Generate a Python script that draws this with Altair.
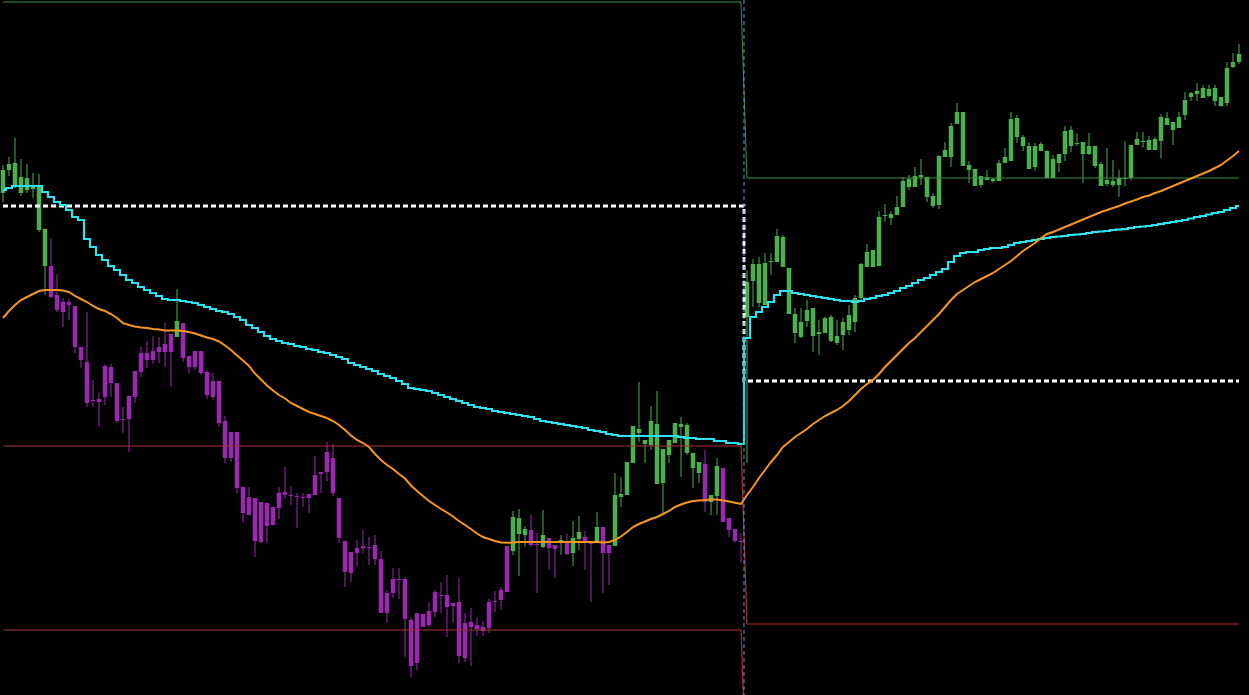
import altair as alt
import pandas as pd

# Candle prices, one entry per bar (two sessions back to back)
high = [
    535, 543, 562, 541, 536, 527, 526, 472, 462, 426,
    402, 401, 394, 353, 388, 320, 308, 336, 336, 317,
    293, 304, 329, 353, 359, 364, 363, 377, 366, 411,
    377, 344, 349, 349, 330, 327, 319, 284, 268, 268,
    213, 213, 202, 198, 197, 193, 213, 233, 214, 207,
    207, 206, 244, 228, 258, 256, 202, 159, 148, 160,
    170, 163, 165, 149, 110, 132, 132, 123, 83, 87,
    86, 98, 110, 118, 125, 97, 122, 87, 92, 82,
    79, 101, 109, 113, 154, 189, 191, 174, 185, 167,
    190, 162, 155, 165, 166, 179, 184, 169, 159, 188,
    173, 155, 227, 223, 238, 274, 318, 260, 294, 309,
    251, 260, 277, 283, 277, 247, 238, 250, 205, 242,
    232, 182, 171, 167,
    430, 441, 443, 447, 447, 471,
    465, 432, 392, 392, 400, 392, 380, 383, 385, 380,
    382, 395, 405, 437, 456, 450, 489, 496, 489, 504,
    523, 525, 533, 541, 523, 507, 545, 558, 577, 597,
    588, 539, 531, 524, 530, 522, 540, 552, 588, 585,
    565, 558, 557, 558, 550, 545, 546, 574, 574, 567,
    558, 567, 554, 538, 552, 540, 530, 559, 555, 568,
    568, 564, 563, 586, 588, 578, 588, 608, 608, 617,
    615, 615, 615, 603, 638, 647, 656,
]
body_hi = [
    530, 536, 537, 523, 522, 514, 513, 471, 434, 405,
    398, 398, 394, 353, 338, 300, 301, 334, 333, 317,
    281, 304, 329, 347, 347, 349, 353, 356, 366, 379,
    377, 344, 349, 349, 328, 319, 319, 279, 268, 268,
    213, 203, 202, 198, 197, 193, 207, 208, 205, 204,
    203, 206, 225, 228, 248, 242, 202, 159, 148, 152,
    154, 153, 155, 141, 107, 121, 121, 121, 80, 87,
    86, 89, 108, 105, 105, 97, 98, 77, 78, 75,
    73, 98, 99, 110, 154, 183, 182, 171, 170, 156,
    165, 162, 155, 160, 157, 162, 168, 163, 159, 173,
    173, 155, 205, 206, 238, 274, 271, 260, 279, 276,
    251, 260, 277, 276, 275, 247, 238, 236, 205, 234,
    232, 182, 171, 159,
    418, 436, 436, 437, 439, 464,
    463, 432, 386, 378, 390, 392, 368, 382, 383, 364,
    378, 385, 402, 436, 448, 450, 483, 485, 486, 493,
    519, 521, 524, 525, 523, 504, 544, 550, 574, 588,
    588, 535, 531, 524, 523, 521, 537, 543, 581, 582,
    563, 554, 554, 556, 549, 541, 546, 569, 570, 557,
    558, 554, 554, 536, 520, 519, 522, 522, 555, 561,
    559, 560, 561, 583, 582, 578, 583, 600, 607, 609,
    612, 611, 612, 603, 632, 638, 646,
]
body_lo = [
    507, 530, 515, 507, 510, 511, 470, 434, 403, 390,
    388, 395, 353, 340, 297, 299, 298, 303, 317, 279,
    280, 281, 303, 328, 340, 340, 348, 348, 348, 363,
    342, 333, 333, 327, 305, 303, 277, 242, 242, 212,
    187, 185, 159, 158, 174, 175, 192, 205, 204, 203,
    202, 202, 205, 226, 228, 207, 162, 128, 127, 147,
    152, 152, 141, 87, 87, 107, 120, 81, 34, 37,
    73, 75, 88, 104, 93, 94, 44, 42, 73, 71,
    69, 72, 98, 100, 108, 149, 166, 165, 155, 155,
    153, 152, 151, 158, 146, 147, 161, 157, 156, 157,
    147, 147, 154, 203, 205, 237, 267, 256, 255, 216,
    217, 245, 257, 273, 247, 232, 227, 198, 198, 204,
    178, 170, 159, 158,
    383, 419, 397, 395, 438, 438,
    433, 386, 367, 363, 379, 364, 366, 367, 359, 357,
    365, 370, 378, 402, 433, 433, 434, 484, 482, 485,
    493, 513, 513, 523, 503, 494, 495, 543, 543, 576,
    534, 530, 514, 515, 520, 519, 519, 537, 539, 563,
    554, 531, 533, 549, 522, 522, 537, 546, 554, 556,
    546, 546, 534, 514, 516, 515, 515, 521, 522, 555,
    558, 550, 550, 559, 575, 570, 572, 585, 603, 606,
    602, 604, 599, 594, 597, 633, 638,
]
low = [
    498, 524, 512, 504, 507, 502, 468, 405, 402, 388,
    373, 380, 347, 332, 293, 293, 273, 295, 303, 277,
    267, 248, 297, 323, 332, 336, 337, 333, 313, 363,
    338, 327, 330, 325, 301, 300, 273, 237, 238, 207,
    177, 185, 143, 157, 157, 175, 181, 201, 195, 172,
    193, 187, 205, 207, 219, 204, 157, 113, 118, 133,
    147, 135, 135, 87, 77, 102, 101, 43, 23, 30,
    73, 73, 83, 87, 63, 77, 37, 38, 34, 64,
    64, 67, 88, 90, 108, 145, 124, 153, 153, 107,
    152, 130, 122, 145, 145, 134, 150, 130, 98, 157,
    107, 115, 154, 193, 205, 237, 258, 237, 250, 216,
    186, 237, 257, 223, 245, 212, 217, 188, 185, 185,
    178, 163, 157, 137,
    237, 393, 393, 395, 425, 438,
    433, 386, 357, 362, 373, 348, 345, 367, 358, 355,
    350, 365, 368, 400, 433, 433, 434, 478, 475, 485,
    493, 510, 513, 515, 498, 492, 491, 543, 533, 576,
    534, 517, 514, 513, 520, 517, 519, 537, 539, 557,
    549, 531, 529, 549, 522, 522, 528, 539, 548, 554,
    517, 545, 532, 514, 514, 513, 503, 514, 520, 555,
    552, 550, 550, 542, 575, 555, 572, 580, 599, 599,
    602, 603, 594, 593, 594, 632, 636,
]

# Trend state of each bar, as runs of (bar count, state)
regime_runs = [
    (8, "bull"), (21, "bear"), (1, "bull"), (55, "bear"), (3, "bull"),
    (2, "bear"), (1, "bull"), (2, "bear"), (1, "bull"), (1, "bear"),
    (2, "bull"), (2, "bear"), (1, "bull"), (2, "bear"), (15, "bull"),
    (1, "bear"), (2, "bull"), (4, "bear"), (83, "bull"),
]

# Session-anchored VWAP
vwap = [
    510, 512, 514, 514, 514, 514, 514, 508, 503, 498,
    495, 490, 483, 480, 461, 453, 445, 440, 434, 430,
    425, 420, 417, 413, 410, 407, 404, 401, 400, 400,
    399, 398, 397, 395, 393, 391, 389, 388, 386, 383,
    380, 375, 372, 368, 364, 361, 359, 357, 356, 354,
    353, 351, 350, 348, 347, 345, 343, 341, 337, 335,
    333, 331, 329, 326, 324, 322, 319, 316, 312, 311,
    310, 309, 307, 305, 303, 301, 299, 297, 295, 293,
    292, 291, 289, 288, 287, 286, 285, 284, 283, 281,
    279, 278, 277, 276, 275, 274, 273, 272, 270, 269,
    268, 266, 265, 264, 264, 264, 264, 264, 264, 264,
    264, 264, 264, 263, 262, 262, 261, 261, 261, 259,
    259, 257, 257, 256,
    362, 383, 388, 393, 398, 405,
    409, 409, 407, 406, 405, 404, 403, 402, 401, 400,
    399, 399, 398, 399, 401, 402, 404, 405, 407, 409,
    412, 414, 417, 420, 422, 425, 428, 431, 438, 444,
    447, 448, 448, 450, 451, 452, 452, 453, 455, 457,
    458, 459, 460, 461, 462, 463, 463.5, 464, 465, 465.5,
    466, 467, 468, 468.5, 469, 470, 470.5, 471, 472, 473,
    473.5, 474, 475, 476, 477, 478, 479, 480, 481.5, 483,
    484, 485.5, 487, 488, 490, 492, 494,
]

# Moving average of the close
moving_avg = [
    382, 389, 395, 400, 403, 406, 409, 410, 410, 410,
    409.5, 408, 404, 401, 398, 394, 391, 389, 386, 382,
    377, 375, 373.5, 372.5, 372, 371, 370.5, 369.5, 369.5, 369.5,
    369, 368, 366.5, 364.5, 362.5, 361, 358.5, 354.5, 350, 344.5,
    339.5, 334, 326.5, 320.5, 314.5, 309.5, 305, 301.5, 297, 294,
    291, 288, 286, 284, 282, 279, 275, 270, 264.5, 260,
    257, 253, 246, 240, 235, 231, 226, 221.5, 214.5, 209,
    204, 199, 195, 191, 187.5, 183.5, 179, 175, 171, 166.5,
    163, 161, 159, 157.5, 157.3, 157.5, 158, 158, 158, 158,
    158, 158, 158, 158, 158, 158, 158, 158, 158, 158,
    157.5, 158, 160, 163.5, 168, 173, 176, 178.5, 181, 183,
    186, 189, 193, 195.5, 197.5, 199, 199.5, 200, 200.5, 200.5,
    199.5, 198.5, 197.3, 196,
    205, 213, 222, 230, 238, 245,
    253, 258, 263, 267, 271, 276, 280, 284, 287, 290,
    294, 299, 305, 311, 316, 320, 326, 333, 339, 345,
    351, 357, 362, 368, 374, 380, 386, 393, 400, 406,
    410, 414, 418, 421, 424, 427, 431, 435, 439, 444,
    449, 453, 457, 462, 466, 468, 470.5, 473, 475.5, 478,
    480.5, 483, 485.5, 488, 490, 492, 494, 496.5, 498.5, 500.5,
    503, 504.5, 507, 509, 511.5, 514, 516.5, 519, 521.5, 524,
    526.5, 529, 532, 535, 539.5, 544, 549,
]

# Per-session levels
session_len = [124, 83]
pivot = [494, 319]
upper_band = [698, 522]
mid_band = [254, 76]
lower_band = [70, -100]

n = len(high)
regime = [state for count, state in regime_runs for _ in range(count)]
session = [s for s, count in enumerate(session_len) for _ in range(count)]

df = pd.DataFrame({
    "bar": list(range(n)),
    "high": high,
    "low": low,
    "body_hi": body_hi,
    "body_lo": body_lo,
    "regime": regime,
    "vwap": vwap,
    "ma": moving_avg,
    "pivot": [pivot[s] for s in session],
    "upper": [upper_band[s] for s in session],
    "mid": [mid_band[s] for s in session],
    "lower": [lower_band[s] for s in session],
})

x_scale = alt.Scale(domain=[-0.5, 207.667], nice=False, zero=False, padding=0)
y_scale = alt.Scale(domain=[5, 700], nice=False, zero=False, padding=0)
X = alt.X("bar:Q", scale=x_scale, axis=None)

base = alt.Chart(df)
color = alt.Color(
    "regime:N",
    scale=alt.Scale(domain=["bull", "bear"], range=["#4caf50", "#9c27b0"]),
    legend=None,
)

wicks = base.mark_rule(strokeWidth=1).encode(
    x=X,
    y=alt.Y("high:Q", scale=y_scale, axis=None),
    y2="low:Q",
    color=color,
)
bodies = base.mark_bar(size=4.5).encode(
    x=X,
    y=alt.Y("body_hi:Q", scale=y_scale, axis=None),
    y2="body_lo:Q",
    color=color,
)


def level_line(field, col, width, interp="linear", dash=None):
    kwargs = dict(color=col, strokeWidth=width, interpolate=interp, clip=True)
    if dash:
        kwargs["strokeDash"] = dash
    return base.mark_line(**kwargs).encode(
        x=X, y=alt.Y(f"{field}:Q", scale=y_scale, axis=None)
    )


upper_line = level_line("upper", "#3b8f3f", 1)
mid_line = level_line("mid", "#a83232", 1.2)
lower_line = level_line("lower", "#a83232", 1.2)
pivot_line = level_line("pivot", "#ffffff", 3, interp="step", dash=[5, 3])
vwap_line = level_line("vwap", "#2ee2f2", 2.2, interp="step")
ma_line = level_line("ma", "#f7961f", 2)

boundary = pd.DataFrame({"bar": [session_len[0] - 0.5]})
divider = alt.Chart(boundary).mark_rule(
    color="#6b95e0", strokeWidth=1, strokeDash=[4, 3]
).encode(x=X)

chart = alt.layer(
    wicks, bodies, upper_line, mid_line, lower_line,
    pivot_line, vwap_line, ma_line, divider,
).properties(
    width=1249, height=695, padding=0, autosize="none", background="#000000"
).configure_view(strokeWidth=0)

chart.save("out.html", embed_options={"renderer": "svg", "actions": False})
